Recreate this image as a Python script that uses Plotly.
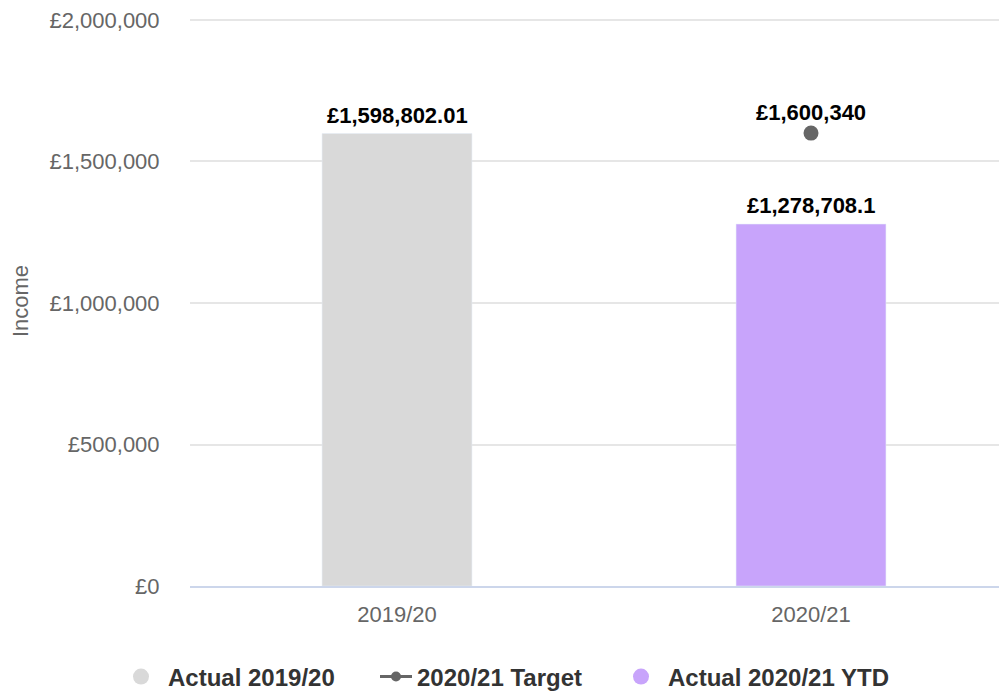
import plotly.graph_objects as go

# data
years = ['2019/20', '2020/21']
actual_1920 = [1598802.01]
target_2021 = [1600340]
actual_2021_ytd = [1278708.1]
y_ticks = [0, 500000, 1000000, 1500000, 2000000]

grey_bar = '#d9d9d9'
purple_bar = '#c8a4fb'
target_col = '#666666'
font_family = 'Liberation Sans, Arial, sans-serif'
label_font = dict(size=22, color='#000000', family=font_family, weight='bold')

fig = go.Figure()

fig.add_trace(go.Bar(
    x=[years[0]], y=actual_1920,
    marker=dict(color=grey_bar),
    width=0.362,
    showlegend=False,
    name='Actual 2019/20'
))

fig.add_trace(go.Bar(
    x=[years[1]], y=actual_2021_ytd,
    marker=dict(color=purple_bar),
    width=0.362,
    showlegend=False,
    name='Actual 2020/21 YTD'
))

fig.add_trace(go.Scatter(
    x=[years[1]], y=target_2021,
    mode='markers',
    marker=dict(color=target_col, size=15),
    showlegend=False,
    name='2020/21 Target'
))

# data labels
for xs, vals, shift in [([years[0]], actual_1920, 4),
                        ([years[1]], actual_2021_ytd, 4),
                        ([years[1]], target_2021, 6)]:
    for x, v in zip(xs, vals):
        fig.add_annotation(x=x, y=v, text=f'£{v:,}', showarrow=False,
                           yanchor='bottom', yshift=shift, font=label_font)

# legend entries, one legend each so the spacing follows the text
fig.add_trace(go.Scatter(x=[None], y=[None], mode='markers', name='Actual 2019/20',
                         marker=dict(color=grey_bar, size=22), legend='legend'))
fig.add_trace(go.Scatter(x=[None], y=[None], mode='lines+markers', name='2020/21 Target',
                         marker=dict(color=target_col, size=10),
                         line=dict(color=target_col, width=3), legend='legend2'))
fig.add_trace(go.Scatter(x=[None], y=[None], mode='markers', name='Actual 2020/21 YTD',
                         marker=dict(color=purple_bar, size=22), legend='legend3'))

legend_style = dict(
    orientation='h',
    xref='container', xanchor='left',
    yref='container', y=0.022, yanchor='middle',
    font=dict(size=24, color='#333333', weight='bold'),
    itemwidth=44,
)

fig.update_layout(
    width=999, height=684,
    barmode='overlay',
    plot_bgcolor='#ffffff',
    paper_bgcolor='#ffffff',
    font=dict(family=font_family, size=22, color='#666666'),
    margin=dict(l=182, r=0, t=6, b=106),
    legend=dict(legend_style, x=106 / 999),
    legend2=dict(legend_style, x=367 / 999, itemwidth=32),
    legend3=dict(legend_style, x=606 / 999),
    xaxis=dict(
        type='category',
        categoryorder='array', categoryarray=years,
        range=[-0.5, 1.4734],
        showgrid=False,
        showline=True, linecolor='#ccd6eb', linewidth=1.5,
        ticks='outside', ticklen=8, tickcolor='rgba(0,0,0,0)',
        tickfont=dict(size=22, color='#666666')
    ),
    yaxis=dict(
        range=[0, 2014085],
        tickvals=y_ticks,
        ticktext=[f'£{v:,}' for v in y_ticks],
        ticklabeloverflow='allow',
        showgrid=True, gridcolor='#e6e6e6', gridwidth=1.5,
        zeroline=False,
        ticks='outside', ticklen=25, tickcolor='rgba(0,0,0,0)',
        tickfont=dict(size=22, color='#666666'),
        title=dict(text='Income', font=dict(size=22, color='#666666'), standoff=21)
    )
)

fig.write_html('out.html')
